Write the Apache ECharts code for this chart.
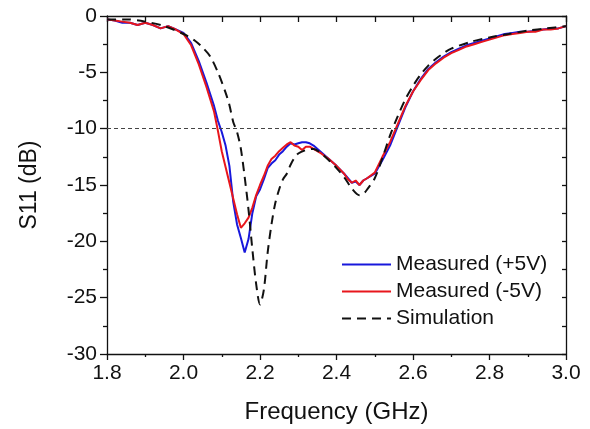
<!DOCTYPE html>
<html>
<head>
<meta charset="utf-8">
<script src="https://cdn.jsdelivr.net/npm/echarts@6/dist/echarts.min.js"></script>
<style>
  html, body { margin: 0; padding: 0; background: #fff; }
  #chart { width: 590px; height: 429px; }
</style>
</head>
<body>
<div id="chart"></div>
<script>
// measured frequency grid (GHz)
const freqMeas = [
  1.80, 1.82, 1.84, 1.86, 1.88, 1.90, 1.92, 1.94, 1.96, 1.98,
  2.00, 2.02, 2.04, 2.06, 2.08, 2.09, 2.10, 2.11, 2.12, 2.13,
  2.14, 2.15, 2.16, 2.17, 2.18, 2.19, 2.20, 2.21, 2.22, 2.23,
  2.24, 2.25, 2.26, 2.27, 2.28, 2.29, 2.30, 2.31, 2.32, 2.33,
  2.34, 2.36, 2.38, 2.40, 2.42, 2.43, 2.44, 2.45, 2.46, 2.47,
  2.48, 2.50, 2.52, 2.54, 2.56, 2.58, 2.60, 2.62, 2.64, 2.66,
  2.68, 2.70, 2.72, 2.74, 2.76, 2.78, 2.80, 2.82, 2.84, 2.86,
  2.88, 2.90, 2.92, 2.94, 2.96, 2.98, 3.00
];
// Measured (+5V)
const s11Plus = [
  -0.3, -0.4, -0.6, -0.6, -0.8, -0.6, -0.8, -1.1, -0.9, -1.2,
  -1.5, -2.4, -4.0, -5.9, -8.0, -9.3, -10.3, -11.5, -13.3, -16.5,
  -18.5, -19.7, -21.0, -19.8, -17.5, -16.0, -15.4, -14.5, -13.5, -13.1,
  -12.8, -12.3, -12.0, -11.6, -11.3, -11.4, -11.3, -11.2, -11.2, -11.3,
  -11.5, -12.1, -12.7, -13.3, -14.0, -14.4, -14.8, -14.7, -15.0, -14.6,
  -14.4, -14.0, -12.8, -11.5, -9.8, -8.1, -6.7, -5.6, -4.7, -4.1,
  -3.6, -3.2, -2.9, -2.6, -2.4, -2.2, -2.0, -1.8, -1.6, -1.5,
  -1.4, -1.4, -1.3, -1.2, -1.1, -1.1, -0.9
];
// Measured (-5V)
const s11Minus = [
  -0.3, -0.4, -0.5, -0.6, -0.8, -0.6, -0.8, -1.1, -0.9, -1.2,
  -1.6, -2.6, -4.3, -6.3, -8.5, -10.2, -12.0, -13.4, -14.8, -16.2,
  -17.6, -18.8, -18.4, -17.9, -17.0, -15.9, -15.0, -14.2, -13.3, -12.7,
  -12.4, -12.0, -11.7, -11.4, -11.2, -11.5, -11.6, -11.9, -11.6, -11.6,
  -11.8, -12.2, -12.7, -13.3, -14.0, -14.5, -14.8, -14.6, -15.0, -14.6,
  -14.4, -13.9, -12.5, -11.2, -9.6, -8.0, -6.7, -5.7, -4.8, -4.2,
  -3.7, -3.3, -3.0, -2.7, -2.5, -2.3, -2.1, -1.9, -1.7, -1.6,
  -1.5, -1.4, -1.4, -1.2, -1.2, -1.1, -0.9
];
// Simulation
const freqSim = [
  1.80, 1.85, 1.90, 1.95, 2.00, 2.03, 2.05, 2.07, 2.09, 2.11,
  2.12, 2.13, 2.14, 2.15, 2.16, 2.17, 2.18, 2.19, 2.20, 2.21,
  2.22, 2.23, 2.24, 2.25, 2.26, 2.27, 2.28, 2.29, 2.30, 2.32,
  2.34, 2.36, 2.38, 2.40, 2.42, 2.44, 2.46, 2.47, 2.48, 2.50,
  2.52, 2.54, 2.56, 2.58, 2.60, 2.62, 2.64, 2.66, 2.68, 2.70,
  2.75, 2.80, 2.85, 2.90, 2.95, 3.00
];
const s11Sim = [
  -0.3, -0.3, -0.5, -0.9, -1.6, -2.2, -2.8, -3.6, -5.0, -6.8,
  -7.9, -9.4, -10.3, -11.8, -14.3, -17.2, -20.7, -23.8, -25.6, -24.3,
  -21.0, -18.5, -16.6, -15.4, -14.5, -14.0, -13.2, -12.6, -12.2, -11.9,
  -11.8, -12.2, -12.8, -13.5, -14.3, -15.3, -15.9, -15.8, -15.4, -14.4,
  -12.6, -10.6, -8.9, -7.4, -6.2, -5.2, -4.4, -3.8, -3.3, -2.9,
  -2.3, -1.9, -1.6, -1.3, -1.1, -0.9
];
const seriesNames = ['Measured (+5V)', 'Measured (-5V)', 'Simulation'];

const zip = (xs, ys) => xs.map((x, i) => [x, ys[i]]);

const chart = echarts.init(document.getElementById('chart'));
const font = 'Liberation Sans, Arial, sans-serif';
const axisLine = { show: true, onZero: false, lineStyle: { color: '#111', width: 1.3 } };

const option = {
  animation: false,
  backgroundColor: '#fff',
  grid: { left: 107, right: 24, top: 16, bottom: 75 },
  legend: {
    orient: 'vertical',
    left: 341,
    top: 254,
    padding: 0,
    itemWidth: 49,
    itemHeight: 14,
    itemGap: 6,
    data: seriesNames,
    itemStyle: { opacity: 0 },
    textStyle: { fontFamily: font, fontSize: 21, color: '#111', lineHeight: 20 }
  },
  xAxis: [
    {
      type: 'value', min: 1.8, max: 3.0, interval: 0.2,
      position: 'bottom',
      name: 'Frequency (GHz)', nameLocation: 'middle', nameGap: 46,
      nameTextStyle: { fontFamily: font, fontSize: 24, color: '#111' },
      axisLine: axisLine,
      axisTick: { show: true, inside: false, length: 6, lineStyle: { color: '#111', width: 1.3 } },
      minorTick: { show: true, splitNumber: 2, length: 3, lineStyle: { color: '#111', width: 1.3 } },
      axisLabel: { fontFamily: font, fontSize: 21, color: '#111', margin: 9,
        formatter: v => v.toFixed(1) },
      splitLine: { show: false }
    },
    {
      type: 'value', min: 1.8, max: 3.0, interval: 0.1,
      position: 'top',
      axisLine: axisLine,
      axisTick: { show: true, inside: true, length: 6, lineStyle: { color: '#111', width: 1.3 } },
      axisLabel: { show: false },
      splitLine: { show: false }
    }
  ],
  yAxis: [
    {
      type: 'value', min: -30, max: 0, interval: 5,
      position: 'left',
      name: 'S11 (dB)', nameLocation: 'middle', nameGap: 66,
      nameTextStyle: { fontFamily: font, fontSize: 23, color: '#111' },
      axisLine: axisLine,
      axisTick: { show: true, inside: false, length: 7, lineStyle: { color: '#111', width: 1.3 } },
      minorTick: { show: true, splitNumber: 2, length: 4, lineStyle: { color: '#111', width: 1.3 } },
      axisLabel: { fontFamily: font, fontSize: 21, color: '#111', margin: 10 },
      splitLine: { show: false }
    },
    {
      type: 'value', min: -30, max: 0, interval: 2.5,
      position: 'right',
      axisLine: axisLine,
      axisTick: { show: true, inside: true, length: 4, lineStyle: { color: '#111', width: 1.3 } },
      axisLabel: { show: false },
      splitLine: { show: false }
    }
  ],
  series: [
    {
      name: seriesNames[0], type: 'line', symbol: 'none',
      data: zip(freqMeas, s11Plus),
      lineStyle: { color: '#1818dc', width: 2 },
      itemStyle: { color: '#1818dc' },
      markLine: {
        silent: true, symbol: 'none', label: { show: false },
        lineStyle: { color: '#444', width: 1, type: [4, 3] },
        data: [{ yAxis: -10 }]
      }
    },
    {
      name: seriesNames[1], type: 'line', symbol: 'none',
      data: zip(freqMeas, s11Minus),
      lineStyle: { color: '#e8161c', width: 2 },
      itemStyle: { color: '#e8161c' }
    },
    {
      name: seriesNames[2], type: 'line', symbol: 'none', smooth: 0.3,
      data: zip(freqSim, s11Sim),
      lineStyle: { color: '#111', width: 2, type: [9, 6] },
      itemStyle: { color: '#111' }
    }
  ]
};
chart.setOption(option);
</script>
</body>
</html>
